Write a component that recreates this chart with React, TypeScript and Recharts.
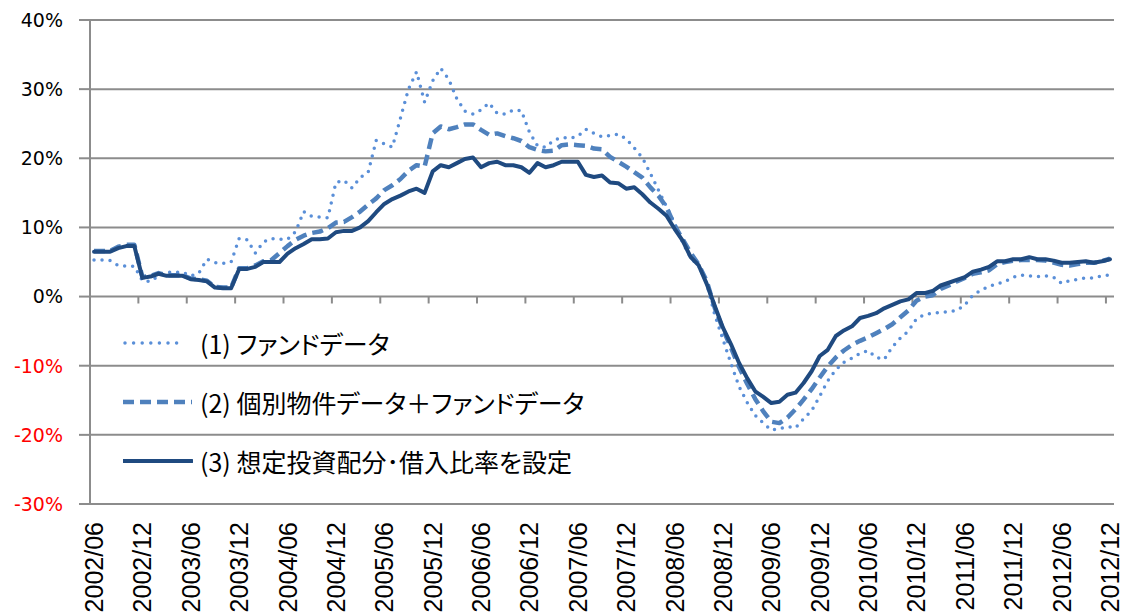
import { LineChart, Line, XAxis, YAxis, CartesianGrid, ReferenceLine } from 'recharts';

// monthly categories 2002/06 .. 2012/12
const months: string[] = [];
for (let y = 2002; y <= 2012; y++) {
  for (let m = 1; m <= 12; m++) {
    if (y === 2002 && m < 6) continue;
    months.push(`${y}/${String(m).padStart(2, '0')}`);
  }
}

// (1) fund data only
const fundOnly = [
  5.3, 5.3, 5.2, 4.5, 4.4, 4.4, 2.3, 2.2, 3.0, 3.5, 3.5, 3.5, 3.0, 3.4, 5.4, 4.9, 4.8, 5.0, 8.4, 8.2,
  6.3, 7.9, 8.4, 8.3, 8.3, 9.4, 12.3, 11.6, 11.5, 11.4, 16.5, 16.8, 15.7, 17.2, 18.0, 22.6, 22.1, 21.6, 25.8, 30.0,
  32.5, 28.1, 31.2, 33.0, 31.4, 28.6, 26.8, 26.4, 27.0, 28.0, 26.5, 26.4, 27.0, 26.9, 23.8, 21.8, 21.6, 22.6, 23.0, 22.9,
  23.2, 24.2, 23.6, 23.1, 23.3, 23.5, 22.8, 21.5, 20.1, 17.8, 15.4, 13.0, 10.6, 7.8, 5.6, 4.4, 1.8, -2.7, -6.2, -9.7,
  -13.0, -15.3, -17.2, -18.3, -19.3, -19.1, -18.8, -19.0, -17.7, -16.5, -14.4, -12.2, -10.6, -9.5, -8.9, -8.2, -7.8, -8.8, -9.1, -7.3,
  -6.0, -5.0, -3.2, -2.6, -2.4, -2.3, -2.2, -2.0, -1.2, 0.2, 0.9, 1.5, 1.8, 2.2, 2.8, 3.1, 3.0, 2.9, 3.0, 2.8,
  1.9, 2.3, 2.5, 2.7, 2.7, 3.0, 3.1,
];

// (2) property data + fund data
const assetPlusFund = [
  6.6, 6.6, 6.6, 7.2, 7.5, 7.5, 2.8, 3.0, 3.4, 3.1, 3.1, 3.1, 2.6, 2.5, 2.3, 1.4, 1.3, 1.3, 4.1, 4.1,
  4.5, 5.1, 5.3, 6.3, 7.3, 8.2, 8.8, 9.2, 9.4, 9.9, 10.7, 10.8, 11.5, 12.3, 13.3, 14.2, 15.4, 16.1, 17.0, 18.2,
  19.0, 18.8, 23.6, 24.6, 24.2, 24.5, 24.9, 24.9, 24.1, 23.4, 23.6, 23.2, 22.9, 22.5, 21.6, 21.2, 21.0, 21.1, 21.9, 22.0,
  21.9, 21.8, 21.4, 21.3, 20.2, 19.5, 18.8, 18.0, 17.2, 15.8, 14.6, 12.9, 10.3, 8.3, 6.3, 4.6, 2.2, -1.7, -4.7, -7.4,
  -10.2, -12.6, -14.8, -16.6, -18.1, -18.3, -17.5, -16.3, -14.9, -13.4, -11.7, -10.1, -8.8, -7.8, -7.0, -6.4, -5.9, -5.3, -4.7, -4.0,
  -3.0, -2.0, -0.6, 0.0, 0.2, 1.1, 1.6, 2.2, 2.7, 3.3, 3.5, 3.8, 4.7, 5.0, 5.2, 5.3, 5.3, 5.3, 5.2, 4.9,
  4.6, 4.5, 4.7, 4.9, 4.9, 5.1, 5.5,
];

// (3) target allocation and leverage
const targetAlloc = [
  6.5, 6.5, 6.5, 7.0, 7.3, 7.3, 2.7, 2.9, 3.3, 3.0, 3.0, 3.0, 2.5, 2.4, 2.2, 1.3, 1.2, 1.2, 4.0, 4.0,
  4.3, 5.0, 5.0, 5.0, 6.2, 7.0, 7.6, 8.3, 8.3, 8.4, 9.3, 9.5, 9.5, 10.0, 10.9, 12.2, 13.4, 14.1, 14.6, 15.2,
  15.6, 15.0, 18.1, 19.0, 18.7, 19.3, 19.9, 20.1, 18.7, 19.3, 19.5, 19.0, 19.0, 18.7, 17.9, 19.3, 18.7, 19.0, 19.5, 19.5,
  19.5, 17.6, 17.3, 17.5, 16.5, 16.4, 15.6, 15.8, 14.8, 13.6, 12.7, 11.7, 9.8, 8.1, 5.7, 4.5, 1.8, -1.4, -4.5, -6.9,
  -9.6, -11.8, -13.7, -14.5, -15.4, -15.2, -14.2, -13.9, -12.5, -10.8, -8.6, -7.7, -5.7, -4.9, -4.3, -3.1, -2.8, -2.4, -1.7, -1.2,
  -0.7, -0.4, 0.5, 0.5, 0.8, 1.6, 2.0, 2.4, 2.8, 3.6, 3.9, 4.3, 5.1, 5.1, 5.4, 5.4, 5.7, 5.4, 5.4, 5.2,
  4.9, 4.9, 5.0, 5.1, 4.9, 5.1, 5.4,
];

const yTicks = [-30, -20, -10, 0, 10, 20, 30, 40];
const tickMonths = months.filter((_, i) => i % 6 === 0);

const series = [
  { key: 'fund', name: '(1) ファンドデータ', color: '#5A8FD8', width: 3.5, dash: '0 8', cap: 'round' as const },
  { key: 'mixed', name: '(2) 個別物件データ＋ファンドデータ', color: '#4F81BD', width: 4.5, dash: '11 6', cap: 'butt' as const },
  { key: 'target', name: '(3) 想定投資配分･借入比率を設定', color: '#1F4A80', width: 4, dash: undefined, cap: 'round' as const },
];

const rows = months.map((month, i) => ({
  month,
  fund: fundOnly[i],
  mixed: assetPlusFund[i],
  target: targetAlloc[i],
}));

const GRID = '#8c8c8c';

function PctTick(props: any) {
  const { x, y, payload } = props;
  const v = payload.value as number;
  return (
    <text
      x={x}
      y={y}
      dy="0.36em"
      textAnchor="end"
      fontFamily="DejaVu Sans"
      fontSize={19}
      fill={v < 0 ? '#FF0000' : '#000'}
    >
      {`${v}%`}
    </text>
  );
}

function MonthTick(props: any) {
  const { x, y, payload } = props;
  return (
    <g transform={`translate(${x},${y + 18})`}>
      <text
        transform="rotate(-90)"
        x={0}
        y={9}
        textAnchor="end"
        fontFamily="Liberation Sans"
        fontSize={25}
        fill="#000"
      >
        {payload.value}
      </text>
    </g>
  );
}

export default function App() {
  return (
    <div style={{ position: 'absolute', left: 0, top: 0, width: 1129, height: 616, background: '#fff' }}>
      <LineChart
        width={1129}
        height={616}
        data={rows}
        margin={{ top: 20, right: 15, bottom: 0, left: 0 }}
      >
        <CartesianGrid vertical={false} stroke={GRID} strokeWidth={2} />
        <XAxis
          dataKey="month"
          scale="band"
          interval={5}
          axisLine={false}
          tickLine={false}
          tickSize={0}
          tickMargin={0}
          height={112}
          tick={<MonthTick />}
        />
        <YAxis
          domain={[-30, 40]}
          ticks={yTicks}
          interval={0}
          width={90}
          axisLine={{ stroke: GRID, strokeWidth: 2 }}
          tickLine={{ stroke: GRID, strokeWidth: 2 }}
          tickSize={11}
          tickMargin={16}
          tick={<PctTick />}
        />
        {tickMonths.map((m) => (
          <ReferenceLine
            key={m}
            segment={[{ x: m, y: 0 }, { x: m, y: -1 }]}
            position="start"
            stroke={GRID}
            strokeWidth={2}
          />
        ))}
        {series.map((s) => (
          <Line
            key={s.key}
            type="linear"
            dataKey={s.key}
            name={s.name}
            stroke={s.color}
            strokeWidth={s.width}
            strokeDasharray={s.dash}
            strokeLinecap={s.cap}
            strokeLinejoin="round"
            dot={false}
            activeDot={false}
            isAnimationActive={false}
          />
        ))}
      </LineChart>

      <div
        style={{
          position: 'absolute',
          left: 123,
          top: 313,
          fontFamily: '"Noto Sans CJK JP", sans-serif',
          fontSize: 25,
          fontFeatureSettings: '"palt"',
          color: '#000',
        }}
      >
        {series.map((s) => (
          <div key={s.key} style={{ display: 'flex', alignItems: 'center', height: 59 }}>
            <svg width={70} height={10} style={{ display: 'block' }}>
              <line
                x1={s.cap === 'round' && s.dash ? 2 : 0}
                y1={5}
                x2={s.dash === '0 8' ? 62 : 69}
                y2={5}
                stroke={s.color}
                strokeWidth={s.width}
                strokeDasharray={s.dash === '0 8' ? '0 8.6' : s.dash}
                strokeLinecap={s.cap}
              />
            </svg>
            <span style={{ marginLeft: 7, whiteSpace: 'nowrap' }}>{s.name}</span>
          </div>
        ))}
      </div>
    </div>
  );
}
